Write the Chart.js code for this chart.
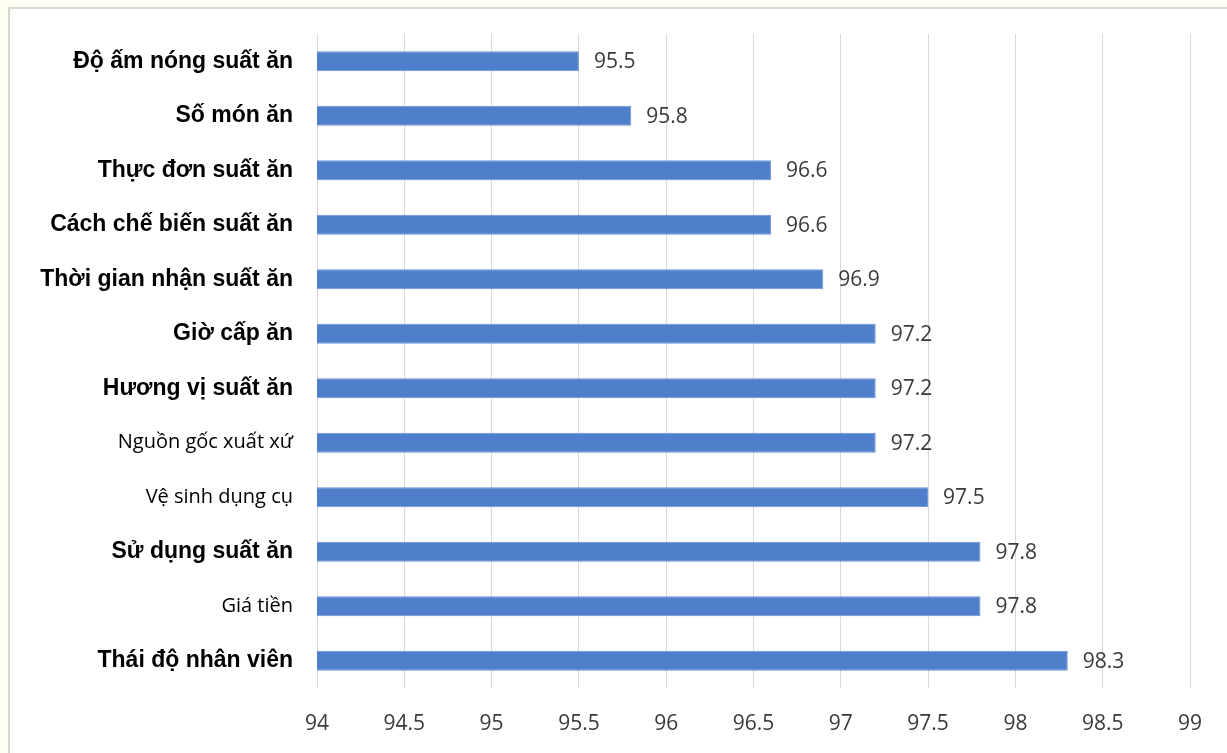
<!DOCTYPE html>
<html>
<head>
<meta charset="utf-8">
<script src="https://cdn.jsdelivr.net/npm/chart.js@4"></script>
<style>
    html, body { margin: 0; padding: 0; background: #fffef2; width: 1227px; height: 753px; overflow: hidden; }
    #frame {
        position: absolute; left: 8px; top: 7px; width: 1219px; height: 746px;
        background: #fff; border-left: 2px solid #d6d6cf; border-top: 2px solid #dcdcd4;
    }
    canvas { display: block; }
</style>
</head>
<body>
<div id="frame">
    <canvas id="chart" width="1217" height="744"></canvas>
</div>
<script>
// Categories (top to bottom) and satisfaction percentages
const categories = [
    'Độ ấm nóng suất ăn',
    'Số món ăn',
    'Thực đơn suất ăn',
    'Cách chế biến suất ăn',
    'Thời gian nhận suất ăn',
    'Giờ cấp ăn',
    'Hương vị suất ăn',
    'Nguồn gốc xuất xứ',
    'Vệ sinh dụng cụ',
    'Sử dụng suất ăn',
    'Giá tiền',
    'Thái độ nhân viên'
];
const values = [95.5, 95.8, 96.6, 96.6, 96.9, 97.2, 97.2, 97.2, 97.5, 97.8, 97.8, 98.3];
const tickValues = [94, 94.5, 95, 95.5, 96, 96.5, 97, 97.5, 98, 98.5, 99];

// these few labels are set in a regular (non-bold) face in the original
const plainLabels = ['Nguồn gốc xuất xứ', 'Vệ sinh dụng cụ', 'Giá tiền'];

// Draw the value next to the end of each bar
const valueLabels = {
    id: 'valueLabels',
    afterDatasetsDraw(chart) {
        const ctx = chart.ctx;
        const meta = chart.getDatasetMeta(0);
        ctx.save();
        ctx.font = '21px "Open Sans", sans-serif';
        ctx.fillStyle = '#3a3a3a';
        ctx.textAlign = 'left';
        ctx.textBaseline = 'middle';
        meta.data.forEach((bar, i) => {
            ctx.fillText(String(values[i]), bar.x + 15, bar.y + 1);
        });
        ctx.restore();
    }
};

new Chart(document.getElementById('chart').getContext('2d'), {
    type: 'bar',
    data: {
        labels: categories,
        datasets: [{
            data: values,
            backgroundColor: '#4f7fca',
            borderColor: '#6a93d4',
            borderWidth: 1,
            categoryPercentage: 1,
            barPercentage: 0.37
        }]
    },
    options: {
        indexAxis: 'y',
        responsive: false,
        animation: false,
        layout: { padding: { top: 25, right: 37, bottom: 0, left: 0 } },
        plugins: {
            legend: { display: false },
            tooltip: { enabled: false }
        },
        scales: {
            x: {
                min: 94,
                max: 99,
                afterBuildTicks: (scale) => {
                    scale.ticks = tickValues.map(v => ({ value: v }));
                },
                afterFit: (scale) => {
                    scale.height = 65;
                    scale.paddingLeft = 0;
                    scale.paddingRight = 0;
                },
                border: { display: false },
                grid: { color: '#d9d9d9', lineWidth: 1, drawTicks: false },
                ticks: {
                    padding: 23,
                    color: '#3a3a3a',
                    font: { family: '"Open Sans", sans-serif', size: 21 },
                    callback: (v) => String(v)
                }
            },
            y: {
                afterFit: (scale) => {
                    scale.width = 307;
                    scale.paddingTop = 0;
                    scale.paddingBottom = 0;
                },
                border: { display: false },
                grid: { display: false, drawTicks: false },
                ticks: {
                    padding: 24,
                    color: '#000',
                    font: (c) => plainLabels.includes(categories[c.index])
                        ? { family: '"Open Sans", sans-serif', size: 20, weight: 'normal' }
                        : { family: '"Liberation Sans", Arial, sans-serif', size: 23, weight: 'bold' }
                }
            }
        }
    },
    plugins: [valueLabels]
});
</script>
</body>
</html>
